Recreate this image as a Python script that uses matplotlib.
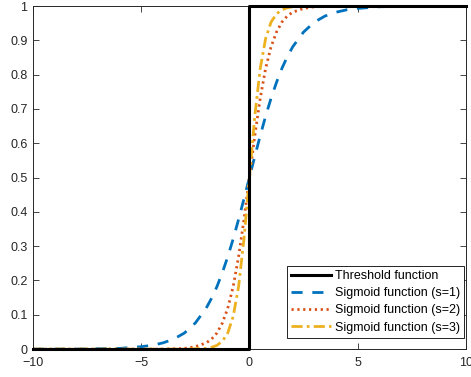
import matplotlib.pyplot as plt

plt.rcParams['font.family'] = ['Liberation Sans', 'DejaVu Sans']

# points
x_pts = [-10, -9, -8, -7, -6, -5, -4.5, -4, -3.5, -3, -2.5, -2, -1.75, -1.5, -1.25,
         -1, -0.75, -0.5, -0.25, 0, 0.25, 0.5, 0.75, 1, 1.25, 1.5, 1.75, 2, 2.5,
         3, 3.5, 4, 4.5, 5, 6, 7, 8, 9, 10]
sig_s1 = [0.000, 0.000, 0.000, 0.001, 0.002, 0.007, 0.011, 0.018, 0.029, 0.047,
          0.076, 0.119, 0.148, 0.182, 0.223, 0.269, 0.321, 0.378, 0.438, 0.5,
          0.562, 0.622, 0.679, 0.731, 0.777, 0.818, 0.852, 0.881, 0.924, 0.953,
          0.971, 0.982, 0.989, 0.993, 0.998, 0.999, 1.000, 1.000, 1.000]
sig_s2 = [0, 0, 0, 0, 0, 0, 0.000, 0.000, 0.001, 0.002, 0.007, 0.018, 0.029,
          0.047, 0.076, 0.119, 0.182, 0.269, 0.378, 0.5, 0.622, 0.731, 0.818,
          0.881, 0.924, 0.953, 0.971, 0.982, 0.993, 0.998, 0.999, 1, 1, 1, 1,
          1, 1, 1, 1]
sig_s3 = [0, 0, 0, 0, 0, 0, 0, 0, 0, 0.000, 0.001, 0.002, 0.005, 0.011, 0.023,
          0.047, 0.095, 0.182, 0.321, 0.5, 0.679, 0.818, 0.905, 0.953, 0.977,
          0.989, 0.995, 0.998, 0.999, 1, 1, 1, 1, 1, 1, 1, 1, 1, 1]
thr_x = [-10, 0, 0, 10]
thr_y = [0, 0, 1, 1]

labels = ['Threshold function', 'Sigmoid function (s=1)',
          'Sigmoid function (s=2)', 'Sigmoid function (s=3)']

fig = plt.figure(figsize=(4.71, 3.77), dpi=100)
ax = fig.add_axes([0.070, 0.074, 0.919, 0.910])

ax.plot(thr_x, thr_y, color='black', lw=2.2, label=labels[0], clip_on=False, zorder=5)
ax.plot(x_pts, sig_s1, color='#0072BD', lw=2, ls=(0, (4, 3.5)), label=labels[1])
ax.plot(x_pts, sig_s2, color='#D95319', lw=2, ls=(0, (0.8, 1.3)), label=labels[2])
ax.plot(x_pts, sig_s3, color='#EDB120', lw=2, ls=(0, (4, 1.5, 1, 1.5)), label=labels[3])

ax.set_xlim(-10, 10)
ax.set_ylim(0, 1)
ax.set_xticks([-10, -5, 0, 5, 10])
ax.set_yticks([i / 10 for i in range(11)])
ax.set_yticklabels(['0', '0.1', '0.2', '0.3', '0.4', '0.5', '0.6', '0.7', '0.8', '0.9', '1'])
ax.tick_params(direction='in', top=True, right=True, labelsize=9, length=4,
               width=0.6, color='#262626', labelcolor='#262626')
ax.tick_params(axis='x', pad=6)
ax.tick_params(axis='y', pad=4)
for s in ax.spines.values():
    s.set_linewidth(0.7)
    s.set_color('#262626')

leg = ax.legend(loc='lower right', bbox_to_anchor=(0.996, 0.032), fontsize=9,
                frameon=True, fancybox=False, edgecolor='black', framealpha=1,
                borderpad=0.35, labelspacing=0.42, handlelength=3.2,
                handletextpad=0.25, borderaxespad=0)
leg.get_frame().set_linewidth(0.6)

fig.savefig('out.png', dpi=100)
